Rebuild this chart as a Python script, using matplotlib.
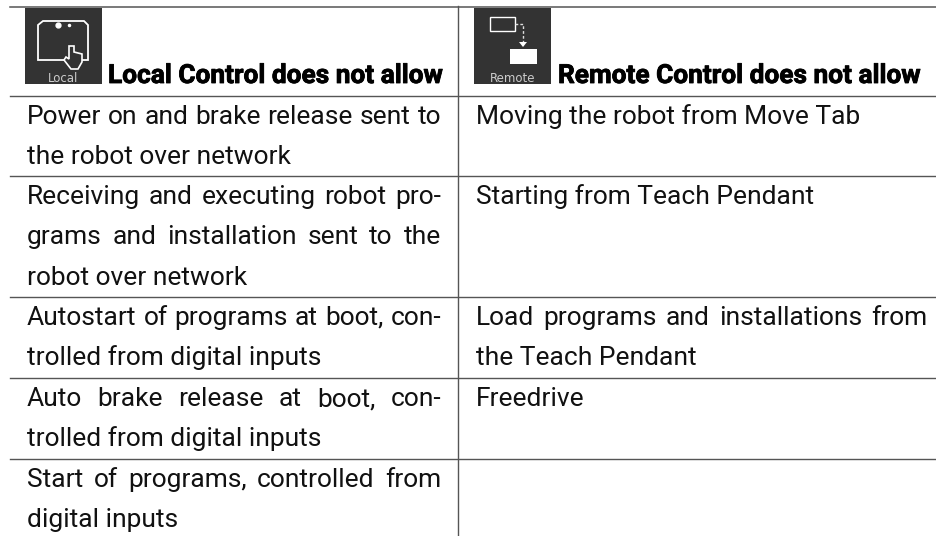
# -*- coding:utf-8 -*-
import matplotlib
matplotlib.use('Agg')
import matplotlib.pyplot as plt
import matplotlib.patheffects as pe
from matplotlib.patches import Rectangle, Polygon

plt.rcParams['font.family'] = ['Roboto', 'DejaVu Sans']

# table content, one list of lines per cell
header_left = "Local Control does not allow"
header_right = "Remote Control does not allow"
icon_left_label = "Local"
icon_right_label = "Remote"
left_cells = [
    ["Power on and brake release sent to", "the robot over network"],
    ["Receiving and executing robot pro-", "grams and installation sent to the", "robot over network"],
    ["Autostart of programs at boot, con-", "trolled from digital inputs"],
    ["Auto brake release at boot, con-", "trolled from digital inputs"],
    ["Start of programs, controlled from", "digital inputs"],
]
right_cells = [
    ["Moving the robot from Move Tab"],
    ["Starting from Teach Pendant"],
    ["Load programs and installations from", "the Teach Pendant"],
    ["Freedrive"],
    [],
]

# layout in pixels
row_tops = [95.5, 176, 297, 378, 459]
FS = 19.0
LINE_H = 40.3
LINE_COLOR = '#555555'
ICON_BG = '#333333'

fig = plt.figure(figsize=(9.36, 5.36), dpi=100)
ax = fig.add_axes([0, 0, 1, 1])
ax.set_xlim(0, 936)
ax.set_ylim(536, 0)
ax.axis('off')
renderer = fig.canvas.get_renderer()


def text_w(s, **kw):
    t = ax.text(0, 0, s, **kw)
    w = t.get_window_extent(renderer).width
    t.remove()
    return w


def draw_line(s, x0, x1, y, justify):
    if not justify:
        ax.text(x0, y, s, fontsize=FS, color='#111111', va='baseline')
        return
    # justified text: spread the spare room over the word gaps
    words = s.split(' ')
    widths = [text_w(w, fontsize=FS) for w in words]
    gap = (x1 - x0 - sum(widths)) / (len(words) - 1)
    x = x0
    for w, ww in zip(words, widths):
        ax.text(x, y, w, fontsize=FS, color='#111111', va='baseline')
        x += ww + gap


def draw_cell(lines, x0, x1, top):
    for i, s in enumerate(lines):
        # whole pixel baseline, or the words of a line wobble by 1px
        y = round(top + 28 + i * LINE_H)
        draw_line(s, x0, x1, y, i < len(lines) - 1)


def icon_base(x, label):
    ax.add_patch(Rectangle((x, 7.5), 77, 76.5, fc=ICON_BG, ec='none', zorder=2))
    ax.text(x + 38.5, 81.5, label, fontsize=8.5, color='#cccccc', ha='center',
            va='baseline', family='DejaVu Sans', zorder=3)


def local_icon(x):
    icon_base(x, icon_left_label)
    screen = [(x + 13, 60), (x + 13, 25), (x + 18, 21), (x + 59, 21), (x + 63, 25), (x + 63, 60)]
    ax.add_patch(Polygon(screen, closed=True, fc='none', ec='white', lw=1.3, zorder=3))
    ax.plot([x + 33], [25], 'o', color='white', ms=3.5, zorder=4)
    ax.plot([x + 44], [25], 'o', color='white', ms=1.5, zorder=4)
    hand = [(x + 44, 46), (x + 49, 46), (x + 49, 52), (x + 57, 54), (x + 57, 62), (x + 53, 69),
            (x + 46, 69), (x + 39, 60), (x + 41, 57), (x + 44, 59)]
    ax.add_patch(Polygon(hand, closed=True, fc=ICON_BG, ec='white', lw=1.2, zorder=4))


def remote_icon(x):
    icon_base(x, icon_right_label)
    ax.add_patch(Rectangle((x + 16, 17), 25, 14, fc='none', ec='white', lw=1.0, zorder=3))
    ax.plot([x + 41, x + 49, x + 49], [24, 24, 42], color='#dddddd', lw=1.0, ls=(0, (2, 1.5)), zorder=3)
    ax.add_patch(Polygon([(x + 45, 42), (x + 53, 42), (x + 49, 47)], closed=True, fc='white', ec='none', zorder=3))
    ax.add_patch(Rectangle((x + 36, 49), 27, 15, fc='white', ec='none', zorder=3))


# rules
ax.plot([10, 936], [6.5, 6.5], color=LINE_COLOR, lw=1.1)
for y in row_tops:
    ax.plot([10, 936], [y, y], color=LINE_COLOR, lw=1.0)
ax.plot([458, 458], [6, 536], color=LINE_COLOR, lw=1.0)

# header, the reference uses a heavier cut than the bold one
local_icon(25)
remote_icon(474)
heavy = [pe.withStroke(linewidth=0.6, foreground='black')]
ax.text(108, 83, header_left, fontsize=18.9, fontweight='bold', color='black',
        va='baseline', path_effects=heavy)
ax.text(558, 83, header_right, fontsize=18.9, fontweight='bold', color='black',
        va='baseline', path_effects=heavy)

# body
for cell, top in zip(left_cells, row_tops):
    draw_cell(cell, 27, 441, top)
for cell, top in zip(right_cells, row_tops):
    draw_cell(cell, 476, 927, top)

fig.savefig('out.png', dpi=100)
